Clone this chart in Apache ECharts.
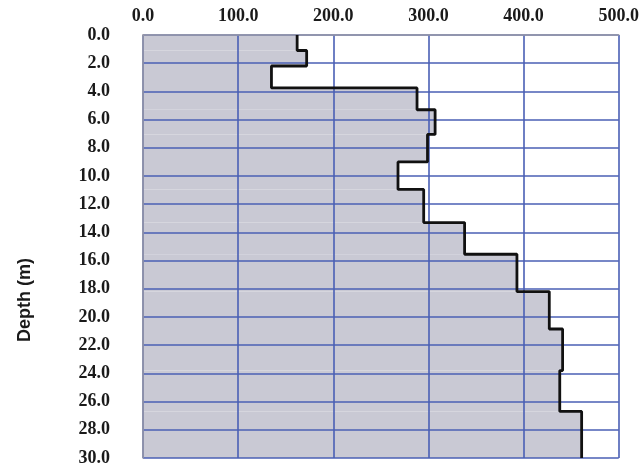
<!DOCTYPE html>
<html><head><meta charset="utf-8">
<script src="https://cdn.jsdelivr.net/npm/echarts@6/dist/echarts.min.js"></script>
<style>html,body{margin:0;padding:0;background:#fff}#c{width:642px;height:467px}</style>
</head><body><div id="c"></div>
<script>
// Layer data (depth in m, value)
const layerTop    = [0, 1.1, 2.2, 3.75, 5.3, 7.05, 9.0, 10.95, 13.3, 15.55, 18.2, 20.85, 23.8, 26.7];
const layerBottom = [1.1, 2.2, 3.75, 5.3, 7.05, 9.0, 10.95, 13.3, 15.55, 18.2, 20.85, 23.8, 26.7, 30];
const layerValue  = [162, 172, 135, 288, 307, 299, 268, 295, 338, 393, 427, 441, 438, 461];
const xTicks = [0, 100, 200, 300, 400, 500];
const depthTicks = [0, 2, 4, 6, 8, 10, 12, 14, 16, 18, 20, 22, 24, 26, 28, 30];

const rects = layerValue.map((v, i) => [v, layerTop[i], layerBottom[i]]);
const stepPts = [];
layerValue.forEach((v, i) => { stepPts.push([v, layerTop[i]]); stepPts.push([v, layerBottom[i]]); });

const labelFont = {fontFamily: 'Liberation Serif', fontWeight: 'bold', fontSize: 18, color: '#1a1a1a'};
const chart = echarts.init(document.getElementById('c'), null, {renderer: 'canvas'});
chart.setOption({
  animation: false,
  grid: {left: 143, right: 23, top: 35, bottom: 7, containLabel: false},
  xAxis: {
    type: 'value', position: 'top', min: xTicks[0], max: xTicks[xTicks.length - 1], interval: 100, z: 5,
    axisLine: {show: true, lineStyle: {color: '#9a9aa6', width: 1.5}},
    axisTick: {show: false},
    axisLabel: Object.assign({formatter: v => v.toFixed(1), margin: 10}, labelFont),
    splitLine: {show: true, lineStyle: {color: '#4a5fb5', width: 1.6}}
  },
  yAxis: {
    type: 'value', inverse: true, min: depthTicks[0], max: depthTicks[depthTicks.length - 1], interval: 2, z: 5,
    axisLine: {show: true, lineStyle: {color: '#9a9aa6', width: 1.5}},
    axisTick: {show: false},
    axisLabel: Object.assign({formatter: v => v.toFixed(1), margin: 33}, labelFont),
    splitLine: {show: true, lineStyle: {color: '#4a5fb5', width: 1.6}}
  },
  graphic: [{
    type: 'text', x: 25, y: 300, rotation: Math.PI / 2,
    style: {text: 'Depth (m)', font: 'bold 18px "Liberation Sans"', fill: '#1a1a1a', textAlign: 'center', textVerticalAlign: 'middle'}
  }],
  series: [
    {
      type: 'custom', z: 2, data: rects,
      renderItem: (params, api) => {
        const p0 = api.coord([0, api.value(1)]);
        const p1 = api.coord([api.value(0), api.value(2)]);
        return {type: 'rect', shape: {x: p0[0], y: p0[1], width: p1[0] - p0[0], height: p1[1] - p0[1]},
                style: {fill: '#c9c9d4'}};
      }
    },
    {
      type: 'line', z: 10, data: stepPts, showSymbol: false, symbol: 'none',
      lineStyle: {color: '#111', width: 2.8}
    }
  ]
});
</script></body></html>
